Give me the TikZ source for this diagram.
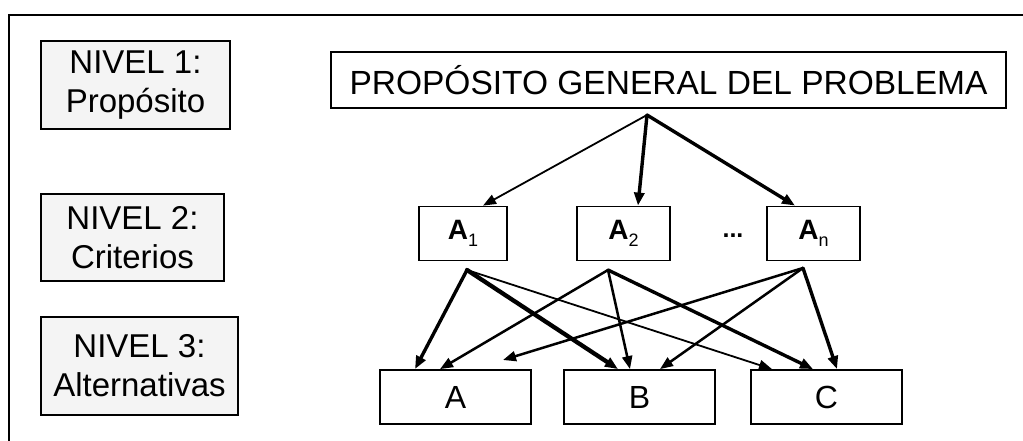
\documentclass[tikz,border=0pt]{standalone}
\usepackage{fontspec}
\setmainfont{Liberation Sans}
\usetikzlibrary{arrows.meta,calc}
\definecolor{lvlfill}{HTML}{F4F4F4}
\tikzset{
  box/.style={draw=black, line width=1.8pt, inner sep=0pt, fill=white},
  lvl/.style={box, fill=lvlfill, align=center, font=\fontsize{33}{39}\selectfont},
  crit/.style={box, minimum width=90pt, minimum height=54pt, font=\fontsize{28}{30}\selectfont\bfseries},
  alt/.style={box, minimum width=151pt, minimum height=54pt, font=\fontsize{32}{34}\selectfont},
  arr/.style={-{Triangle[length=13pt,width=10pt]}, line cap=round},
  thin/.style={arr, line width=1.8pt},
  med/.style={arr, line width=2.5pt},
  thk/.style={arr, line width=3.4pt},
  vthk/.style={arr, line width=4.3pt},
}
\newcommand{\subtxt}[1]{\raisebox{-7pt}{\fontsize{18}{18}\mdseries\selectfont #1}}
\begin{document}
\begin{tikzpicture}[x=1pt,y=-1pt]
\useasboundingbox (0,0) rectangle (1023,441);
\draw[line width=2.4pt] (9,445) -- (9,15) -- (1030,15);

% level labels
\node[lvl, minimum width=189pt, minimum height=88pt] (n1) at (135.5,85) {NIVEL 1:\\Propósito};
\node[lvl, minimum width=183pt, minimum height=87pt] (n2) at (132.5,237.5) {NIVEL 2:\\Criterios};
\node[lvl, minimum width=197pt, minimum height=98pt] (n3) at (139.5,366) {NIVEL 3:\\Alternativas};

% goal
\node[box, minimum width=675pt, minimum height=56pt, font=\fontsize{33.5}{38}\selectfont] (top) at (668.5,80) {PROPÓSITO GENERAL DEL PROBLEMA};

% criteria
\node[crit, minimum width=88pt] (a1) at (463,233.5) {A\subtxt{1}};
\node[crit, minimum width=93pt] (a2) at (623.5,233.5) {A\subtxt{2}};
\node[crit, minimum width=93pt] (an) at (813.5,233.5) {A\subtxt{n}};
\node[font=\fontsize{25}{28}\selectfont\bfseries] (dots) at (733,236) {...};

% alternatives
\node[alt] (ba) at (455.5,397) {A};
\node[alt] (bb) at (639.5,397) {B};
\node[alt] (bc) at (826.5,397) {C};

% source points
\coordinate (t0) at (647,115);
\coordinate (s1) at (467,270);
\coordinate (s2) at (608,270);
\coordinate (sn) at (803,268);
\coordinate (fa) at (503,360);

% level 1 -> level 2
\draw[thin] (t0) -- (483,0 |- a1.north);
\draw[thk]  (t0) -- (638,0 |- a2.north);
\draw[thk]  (t0) -- (795,0 |- an.north);

% level 2 -> level 3
\draw[thk]  (s1) -- (415,0 |- ba.north);
\draw[vthk] (s1) -- (618,0 |- bb.north);
\draw[thin] (s1) -- (772,0 |- bc.north);

\draw[med]  (s2) -- (440,0 |- ba.north);
\draw[med]  (s2) -- (630,0 |- bb.north);
\draw[thk]  (s2) -- (813,0 |- bc.north);

\draw[med]  (sn) -- (fa);
\draw[med]  (sn) -- (660,0 |- bb.north);
\draw[thk]  (sn) -- (837,0 |- bc.north);
\end{tikzpicture}
\end{document}
